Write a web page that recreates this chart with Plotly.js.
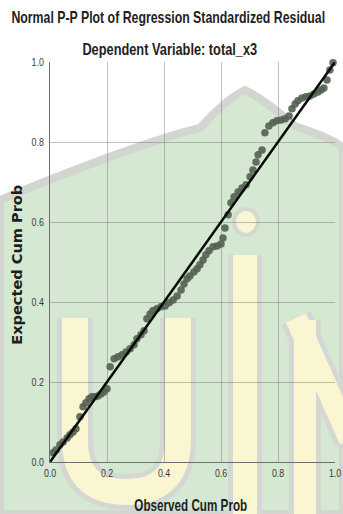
<!DOCTYPE html>
<html>
<head>
<meta charset="utf-8">
<script src="https://cdn.plot.ly/plotly-3.0.1.min.js"></script>
<style>html,body{margin:0;padding:0;background:#fff;}#chart{width:343px;height:514px;}</style>
</head>
<body>
<div id="chart"></div>
<script>
// Observed cumulative probability (x) and expected cumulative probability (y)
var observedCumProb = [0.011,0.021,0.035,0.046,0.060,0.070,0.081,0.091,0.105,0.116,0.126,0.137,0.147,0.158,0.168,0.179,0.189,0.200,
  0.211,0.225,0.239,0.253,0.267,0.281,0.295,0.305,0.319,0.330,0.340,0.351,0.361,0.375,0.389,0.404,0.418,0.432,0.446,0.460,0.470,
  0.481,0.491,0.505,0.516,0.526,0.537,0.547,0.558,0.572,0.586,0.600,0.607,0.614,0.625,0.635,0.646,0.660,0.674,0.688,0.702,0.712,
  0.723,0.730,0.744,0.754,0.768,0.782,0.796,0.811,0.825,0.839,0.849,0.860,0.870,0.884,0.898,0.912,0.926,0.940,0.951,0.961,0.972,
  0.982,0.993];
var expectedCumProb = [0.023,0.030,0.043,0.050,0.060,0.068,0.075,0.083,0.113,0.138,0.148,0.158,0.163,0.163,0.165,0.170,0.175,0.183,
  0.238,0.258,0.263,0.268,0.275,0.283,0.293,0.308,0.318,0.328,0.358,0.370,0.378,0.383,0.388,0.390,0.398,0.405,0.415,0.430,0.445,
  0.458,0.465,0.475,0.483,0.493,0.505,0.518,0.528,0.538,0.540,0.545,0.560,0.585,0.618,0.648,0.663,0.675,0.685,0.693,0.713,0.730,
  0.750,0.768,0.780,0.823,0.840,0.848,0.853,0.855,0.858,0.865,0.883,0.895,0.903,0.910,0.913,0.915,0.920,0.925,0.930,0.935,0.955,
  0.980,0.998];
var refLineX = [0, 1];
var refLineY = [0, 1];
var tickValues = [0, 0.2, 0.4, 0.6, 0.8, 1.0];
var tickLabels = ["0.0", "0.2", "0.4", "0.6", "0.8", "1.0"];
var chartTitle = "Normal P-P Plot of Regression Standardized Residual";
var chartSubtitle = "Dependent Variable: total_x3";
var xTitle = "Observed Cum Prob";
var yTitle = "Expected Cum Prob";

var W = 343, H = 514, L = 50, R = 8, T = 62, B = 52;
function px(x){ return +((x - L) / (W - L - R)).toFixed(4); }
function py(y){ return +((H - B - y) / (H - T - B)).toFixed(4); }
function P(pts){ return pts.map(function(p){ return p[0] + ' ' + px(p[1]) + ',' + py(p[2]); }).join(' '); }

var sansFam = 'Liberation Sans, Arial, sans-serif';

// decorative background watermark (approximation)
var greenPath = P([['M',0,200],['C',60,175],['',150,140],['',200,128],['Q',225,100],['',245,90],['Q',265,100],['',295,126],['C',320,135],['',335,140],['',343,148],['L',343,514],['L',0,514]]) + ' Z';
var uPath = P([['M',75,318],['L',75,440],['Q',75,492],['',126,492],['Q',178,492],['',178,440],['L',178,318]]);
var iPath = P([['M',245,255],['L',245,520]]);
var nPath = P([['M',305,320],['L',305,520],['M',296,318],['L',350,440]]);

var edge = '#d5d7d2', cream = '#faf6d2';
function stroke(path, color, w){ return {type:'path', xref:'paper', yref:'paper', path:path, layer:'below', line:{color:color, width:w}}; }
var shapes = [
  {type:'path', xref:'paper', yref:'paper', path:greenPath, layer:'below', fillcolor:'#d5e8d1', line:{color:'#d3d5d0', width:8}},
  stroke(uPath, edge, 36), stroke(uPath, cream, 26),
  stroke(iPath, edge, 34), stroke(iPath, cream, 24),
  {type:'circle', xref:'paper', yref:'paper', x0:px(234), x1:px(258), y0:py(235), y1:py(209), layer:'below', fillcolor:cream, line:{color:edge, width:4}},
  stroke(nPath, edge, 32), stroke(nPath, cream, 22)
];

var traces = [
  {x: observedCumProb, y: expectedCumProb, type:'scatter', mode:'markers',
   marker:{color:'rgba(82,96,82,0.9)', size:7.5}, hoverinfo:'skip', cliponaxis:false},
  {x: refLineX, y: refLineY, type:'scatter', mode:'lines', line:{color:'#0a0a0a', width:2.5}, hoverinfo:'skip'}
];

var axisCommon = {range:[0,1], tickvals:tickValues, ticktext:tickLabels, showgrid:true, gridcolor:'rgba(110,120,110,0.45)', gridwidth:1,
  zeroline:false, showline:true, linecolor:'#6f6f6f', linewidth:1, ticks:'', tickfont:{family:sansFam, size:11, color:'#3a3a3a'}, fixedrange:true};

var layout = {
  width:W, height:H, margin:{l:L, r:R, t:T, b:B},
  paper_bgcolor:'#ffffff', plot_bgcolor:'rgba(0,0,0,0)', showlegend:false,
  xaxis: Object.assign({}, axisCommon, {ticklabelstandoff:1}),
  yaxis: Object.assign({}, axisCommon, {ticklabelstandoff:3}),
  shapes: shapes,
  annotations: [
    {text:'<b>' + chartTitle + '</b>', xref:'paper', yref:'paper', x:px(169), y:py(17), xanchor:'center', yanchor:'middle', showarrow:false, font:{family:sansFam, size:16.5, color:'#1e1e1e'}},
    {text:'<b>' + chartSubtitle + '</b>', xref:'paper', yref:'paper', x:px(170), y:py(49), xanchor:'center', yanchor:'middle', showarrow:false, font:{family:sansFam, size:16.5, color:'#1e1e1e'}},
    {text:'<b>' + xTitle + '</b>', xref:'paper', yref:'paper', x:px(191), y:py(505), xanchor:'center', yanchor:'middle', showarrow:false, font:{family:sansFam, size:16.5, color:'#1e1e1e'}},
    {text:yTitle, xref:'paper', yref:'paper', x:px(17), y:py(264), xanchor:'center', yanchor:'middle', textangle:-90, showarrow:false, font:{family:'DejaVu Sans, sans-serif', size:13.5, weight:'bold', color:'#1e1e1e'}}
  ]
};

function squeeze(el, sx){
  var x = parseFloat(el.getAttribute('x')) || 0;
  var tr = el.getAttribute('transform') || '';
  el.setAttribute('transform', tr + ' translate(' + x + ',0) scale(' + sx + ',1) translate(' + (-x) + ',0)');
}

Plotly.newPlot('chart', traces, layout, {displayModeBar:false, staticPlot:true}).then(function(gd){
  var horiz = {};
  horiz[chartTitle] = 314; horiz[chartSubtitle] = 175; horiz[xTitle] = 113;
  document.querySelectorAll('#chart text').forEach(function(t){
    var s = (t.textContent || '').trim();
    if (horiz[s]) {
      var r = t.getBoundingClientRect();
      if (r.width > 0) squeeze(t, horiz[s] / r.width);
    } else if (s === yTitle) {
      t.setAttribute('textLength', '160');
      t.setAttribute('lengthAdjust', 'spacingAndGlyphs');
    }
  });
  gd.querySelectorAll('.xtick text, .ytick text').forEach(function(t){ squeeze(t, 0.8); });
});
</script>
</body>
</html>
